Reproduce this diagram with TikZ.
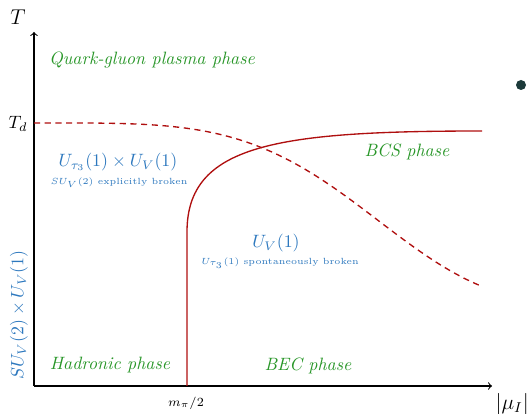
\documentclass[tikz,border=0pt]{standalone}
\usepackage{amsmath}
\definecolor{phgreen}{RGB}{40,150,40}
\definecolor{symblue}{RGB}{45,120,190}
\definecolor{linered}{RGB}{175,15,15}
\definecolor{dotcol}{RGB}{28,58,58}
\begin{document}
\begin{tikzpicture}[x=0.56pt,y=-0.56pt,
  axis/.style={line width=0.6pt,->,>=to},
  axlab/.style={font=\large},
  phase/.style={text=phgreen,font=\itshape},
  sym/.style={text=symblue},
  symnote/.style={text=symblue,font=\tiny},
  solidred/.style={draw=linered,line width=0.75pt},
  dashred/.style={draw=linered,line width=0.75pt,dash pattern=on 3.4pt off 2.6pt}]
\useasboundingbox (0,0) rectangle (531,414);
\coordinate (O) at (34,386);
\coordinate (ytop) at (34,32);
\coordinate (xend) at (492,386);
\draw[axis] (O) -- (xend);
\draw[axis] (O) -- (ytop);
\node[axlab] (Tlab) at (18,17) {$T$};
\node[font=\normalsize] (Tdlab) at (18,124) {$T_d$};
\node[axlab,anchor=east,inner sep=0.5pt] (mulab) at (530,404) {$|\mu_I|$};
\node[font=\scriptsize] (mpi) at (186,403) {$m_\pi/2$};
% phase boundaries
\coordinate (vbot) at (187,386);
\coordinate (vtop) at (187,232);
\coordinate (hend) at (482,131);
\draw[solidred] (vbot) -- (vtop) .. controls (187,145) and (275,131) .. (hend);
\draw[dashred] plot[domain=34:482,samples=90,smooth] (\x,{123+185*(1-exp(-((\x-34)/370)^4))});
% labels
\node[phase] (qgp) at (152,60) {Quark-gluon plasma phase};
\node[phase] (bcs) at (407,152) {BCS phase};
\node[phase] (had) at (110,365) {Hadronic phase};
\node[phase] (bec) at (308,366) {BEC phase};
\node[sym] (s1) at (118,162) {$U_{\tau_3}(1)\times U_V(1)$};
\node[symnote] (n1) at (119,183) {$SU_V(2)$ explicitly broken};
\node[sym] (s2) at (276,243) {$U_V(1)$};
\node[symnote] (n2) at (280,263) {$U_{\tau_3}(1)$ spontaneously broken};
\node[sym,rotate=90] (s3) at (19,315) {$SU_V(2)\times U_V(1)$};
\fill[dotcol] (521,85) circle (5);
\end{tikzpicture}
\end{document}
